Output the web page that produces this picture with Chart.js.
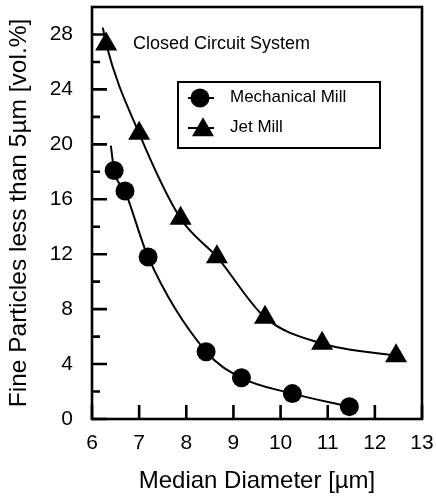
<!DOCTYPE html>
<html>
<head>
<meta charset="utf-8">
<script src="https://cdn.jsdelivr.net/npm/chart.js@4/dist/chart.umd.min.js"></script>
<style>
  html, body { margin: 0; padding: 0; background: #fff; }
</style>
</head>
<body>
<canvas id="chart" width="436" height="501"></canvas>
<script>
// values
const mechX = [6.47, 6.70, 7.19, 8.42, 9.17, 10.25, 11.46];
const mechY = [18.1, 16.6, 11.8, 4.9, 3.0, 1.85, 0.9];
const jetX = [6.30, 7.00, 7.88, 8.65, 9.67, 10.88, 12.45];
const jetY = [27.3, 20.8, 14.6, 11.8, 7.4, 5.5, 4.6];
// where the fitted curves start, above the first marker
const mechCurveStart = [6.40, 19.9];
const jetCurveStart = [6.23, 28.5];
const yMinorTicks = [2, 6, 10, 14, 18, 22, 26];

const FONT = "'Liberation Sans', Arial, sans-serif";
Chart.defaults.font.family = FONT;
Chart.defaults.color = "#000";

const pts = (xs, ys) => xs.map((v, i) => ({ x: v, y: ys[i] }));
const curve = (start, xs, ys) => [{ x: start[0], y: start[1] }].concat(pts(xs, ys));

function circle(ctx, x, y, r) {
  ctx.beginPath();
  ctx.arc(x, y, r, 0, Math.PI * 2);
  ctx.fill();
}
function triangle(ctx, x, y, r) {
  ctx.beginPath();
  for (let k = 0; k < 3; k++) {
    const a = k * 2 * Math.PI / 3;
    const px = x + Math.sin(a) * r, py = y - Math.cos(a) * r;
    k ? ctx.lineTo(px, py) : ctx.moveTo(px, py);
  }
  ctx.closePath();
  ctx.fill();
}

const framePlugin = {
  id: "frame",
  afterDraw(chart) {
    const { ctx, chartArea: a, scales } = chart;
    const xs = scales.x, ys = scales.y;
    ctx.save();
    ctx.strokeStyle = "#000";
    ctx.fillStyle = "#000";
    ctx.lineWidth = 2.6;
    ctx.strokeRect(a.left, a.top, a.right - a.left, a.bottom - a.top);

    // inward ticks
    ctx.beginPath();
    xs.ticks.forEach(t => {
      const px = xs.getPixelForValue(t.value);
      ctx.moveTo(px, a.bottom);
      ctx.lineTo(px, a.bottom - 14);
    });
    ys.ticks.forEach(t => {
      const py = ys.getPixelForValue(t.value);
      ctx.moveTo(a.left, py);
      ctx.lineTo(a.left + 15, py);
    });
    yMinorTicks.forEach(v => {
      const py = ys.getPixelForValue(v);
      ctx.moveTo(a.left, py);
      ctx.lineTo(a.left + 8, py);
    });
    ctx.stroke();

    ctx.textBaseline = "middle";
    ctx.font = "18px " + FONT;
    ctx.fillText("Closed Circuit System", a.left + 41, a.top + 37);

    // legend box
    const bx = a.left + 86, by = a.top + 75;
    ctx.lineWidth = 2;
    ctx.strokeRect(bx, by, 202, 66);
    ctx.beginPath();
    ctx.moveTo(bx + 10, by + 16); ctx.lineTo(bx + 36, by + 16);
    ctx.moveTo(bx + 10, by + 46); ctx.lineTo(bx + 36, by + 46);
    ctx.stroke();
    circle(ctx, bx + 22, by + 16, 9.5);
    triangle(ctx, bx + 25, by + 48, 12.7);
    ctx.font = "17px " + FONT;
    ctx.fillText("Mechanical Mill", bx + 52, by + 15);
    ctx.fillText("Jet Mill", bx + 52, by + 45);
    ctx.restore();
  }
};

new Chart(document.getElementById("chart"), {
  type: "scatter",
  data: {
    datasets: [
      {
        label: "Mechanical Mill curve",
        data: curve(mechCurveStart, mechX, mechY),
        showLine: true,
        borderColor: "#000",
        borderWidth: 2,
        pointRadius: 0,
        cubicInterpolationMode: "monotone"
      },
      {
        label: "Jet Mill curve",
        data: curve(jetCurveStart, jetX, jetY),
        showLine: true,
        borderColor: "#000",
        borderWidth: 2,
        pointRadius: 0,
        cubicInterpolationMode: "monotone"
      },
      {
        label: "Mechanical Mill",
        data: pts(mechX, mechY),
        pointStyle: "circle",
        pointRadius: 9.5,
        backgroundColor: "#000",
        borderColor: "#000",
        borderWidth: 0
      },
      {
        label: "Jet Mill",
        data: pts(jetX, jetY),
        pointStyle: "triangle",
        pointRadius: 12.7,
        backgroundColor: "#000",
        borderColor: "#000",
        borderWidth: 0
      }
    ]
  },
  options: {
    responsive: false,
    animation: false,
    devicePixelRatio: 1,
    // big markers would otherwise push the plot top down
    layout: { autoPadding: false, padding: { top: 7, right: 14, left: 0, bottom: 0 } },
    plugins: {
      legend: { display: false },
      tooltip: { enabled: false }
    },
    scales: {
      x: {
        type: "linear",
        min: 6,
        max: 13,
        grid: { display: false, drawTicks: false },
        border: { display: false },
        ticks: { stepSize: 1, padding: 12, autoSkip: false, maxRotation: 0, font: { size: 21 } },
        title: {
          display: true,
          text: "Median Diameter [\u00b5m]",
          font: { size: 24 },
          padding: { top: 0, bottom: 5 }
        },
        afterFit(s) { s.height = 82; s.paddingLeft = 0; s.paddingRight = 0; }
      },
      y: {
        type: "linear",
        min: 0,
        max: 30,
        grid: { display: false, drawTicks: false },
        border: { display: false },
        ticks: { stepSize: 4, padding: 19, font: { size: 21 } },
        afterBuildTicks(s) { s.ticks = s.ticks.filter(t => t.value % 4 === 0); },
        title: {
          display: true,
          text: "Fine Particles less than 5\u00b5m [vol.%]",
          font: { size: 24.5 },
          padding: { top: 5, bottom: 0 }
        },
        afterFit(s) { s.width = 92; s.paddingTop = 0; s.paddingBottom = 0; }
      }
    }
  },
  plugins: [framePlugin]
});
</script>
</body>
</html>
